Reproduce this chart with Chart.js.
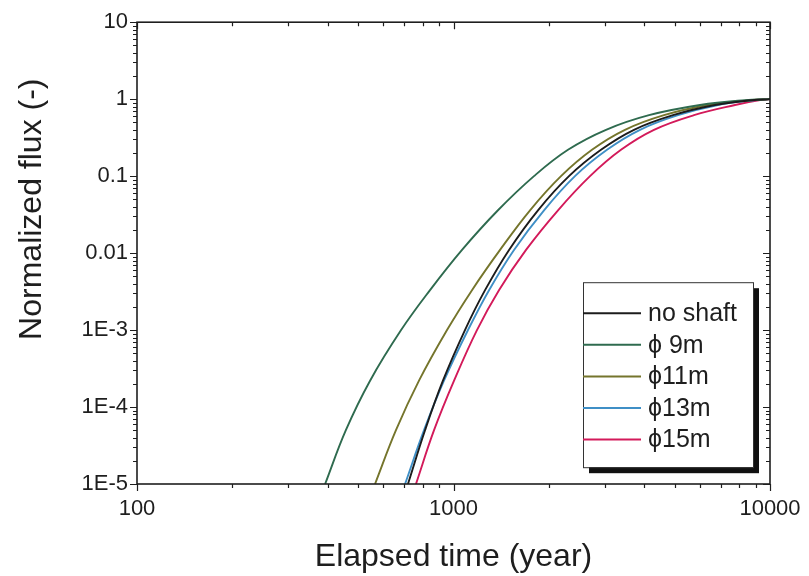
<!DOCTYPE html>
<html>
<head>
<meta charset="utf-8">
<script src="https://cdn.jsdelivr.net/npm/chart.js@4.4.0/dist/chart.umd.min.js"></script>
<style>
  html, body { margin: 0; padding: 0; background: #ffffff; }
  #wrap { width: 809px; height: 576px; }
</style>
</head>
<body>
<div id="wrap"><canvas id="c" width="809" height="576"></canvas></div>
<script>
// Normalized flux breakthrough curves vs. elapsed time, per shaft diameter.
// Each series lists the elapsed time (years) at which the flux reaches each level.
const seriesNames = ['no shaft', '\u03D5 9m', '\u03D511m', '\u03D513m', '\u03D515m'];
const seriesColors = ['#1c1c1c', '#2f6b4f', '#75752c', '#3f8fc6', '#d31a5a'];

const fluxLevels = [1e-5, 5e-5, 2.2e-4, 1e-3, 3.3e-3, 0.011, 0.036, 0.1, 0.22, 0.4, 0.62, 0.84, 0.97, 1.0];

const yearsNoShaft = [718, 813, 926, 1087, 1258, 1498, 1849, 2317, 2924, 3718, 4938, 6702, 8773, 10000];
const years9m      = [393, 457, 545, 683, 843, 1064, 1382, 1796, 2300, 3033, 4147, 6009, 8338, 10000];
const years11m     = [565, 658, 778, 954, 1144, 1403, 1745, 2186, 2739, 3482, 4625, 6370, 8646, 10000];
const years13m     = [703, 807, 933, 1111, 1295, 1553, 1932, 2420, 3055, 3884, 5121, 6850, 8901, 10000];
const years15m     = [761, 868, 1004, 1186, 1392, 1695, 2139, 2700, 3382, 4300, 5753, 7752, 9298, 10000];

const xTickLabels = ['100', '1000', '10000'];
const yTickLabels = ['1E-5', '1E-4', '1E-3', '0.01', '0.1', '1', '10'];

const xTitle = 'Elapsed time (year)';
const yTitle = 'Normalized flux (-)';

const FONT = '"Liberation Sans", Arial, Helvetica, sans-serif';
const INK = '#1e1e1e';

const allYears = [yearsNoShaft, years9m, years11m, years13m, years15m];

const datasets = seriesNames.map((name, i) => ({
  label: name,
  data: allYears[i].map((t, j) => ({ x: t, y: fluxLevels[j] })),
  borderColor: seriesColors[i],
  backgroundColor: seriesColors[i],
  borderWidth: 1.9,
  pointRadius: 0,
  fill: false,
  tension: 0.4
}));

function isDecade(v) {
  const l = Math.log10(v);
  return Math.abs(l - Math.round(l)) < 1e-9;
}

// Box frame with log ticks: outward on bottom/left, inward on top/right
const axesFrame = {
  id: 'axesFrame',
  afterDatasetsDraw(chart) {
    const { ctx, chartArea: a, scales: { x, y } } = chart;
    ctx.save();
    ctx.strokeStyle = INK;
    ctx.lineWidth = 1.2;
    const major = 7, minor = 4;
    const e0x = Math.round(Math.log10(x.min)), e1x = Math.round(Math.log10(x.max));
    for (let e = e0x; e <= e1x; e++) {
      for (let m = 1; m <= 9; m++) {
        const v = m * Math.pow(10, e);
        if (v > x.max * 1.0001) break;
        const px = Math.round(x.getPixelForValue(v)) + 0.5;
        const len = m === 1 ? major : minor;
        ctx.beginPath();
        ctx.moveTo(px, a.bottom); ctx.lineTo(px, a.bottom + len);
        ctx.moveTo(px, a.top); ctx.lineTo(px, a.top + len);
        ctx.stroke();
      }
    }
    const e0y = Math.round(Math.log10(y.min)), e1y = Math.round(Math.log10(y.max));
    for (let e = e0y; e <= e1y; e++) {
      for (let m = 1; m <= 9; m++) {
        const v = m * Math.pow(10, e);
        if (v > y.max * 1.0001) break;
        const py = Math.round(y.getPixelForValue(v)) + 0.5;
        const len = m === 1 ? major : minor;
        ctx.beginPath();
        ctx.moveTo(a.left, py); ctx.lineTo(a.left - len, py);
        ctx.moveTo(a.right, py); ctx.lineTo(a.right - len, py);
        ctx.stroke();
      }
    }
    ctx.lineWidth = 1.6;
    ctx.strokeRect(a.left, a.top, a.right - a.left, a.bottom - a.top);
    ctx.restore();
  }
};

// Vertical axis title, set a little above the plot's middle
const yTitlePlugin = {
  id: 'yTitlePlugin',
  afterDraw(chart) {
    const { ctx, chartArea: a } = chart;
    ctx.save();
    ctx.translate(32, a.top + 187);
    ctx.rotate(-Math.PI / 2);
    ctx.fillStyle = INK;
    ctx.font = '32px ' + FONT;
    ctx.textAlign = 'center';
    ctx.textBaseline = 'middle';
    ctx.fillText(yTitle, 0, 0);
    ctx.restore();
  }
};

// Boxed legend with a drop shadow, inside the lower right of the plot
const boxLegend = {
  id: 'boxLegend',
  afterDraw(chart) {
    const { ctx, chartArea: a } = chart;
    const left = a.right - 187, top = a.top + 260, w = 170, h = 185, sh = 6;
    ctx.save();
    ctx.fillStyle = '#111';
    ctx.fillRect(left + sh, top + sh, w, h);
    ctx.fillStyle = '#fff';
    ctx.fillRect(left, top, w, h);
    ctx.strokeStyle = '#333';
    ctx.lineWidth = 1;
    ctx.strokeRect(left + 0.5, top + 0.5, w, h);
    ctx.font = '25px ' + FONT;
    ctx.textBaseline = 'middle';
    ctx.textAlign = 'left';
    chart.data.datasets.forEach((ds, i) => {
      const ry = top + 31 + i * 31.6;
      ctx.strokeStyle = ds.borderColor;
      ctx.lineWidth = 2;
      ctx.beginPath();
      ctx.moveTo(left, ry); ctx.lineTo(left + 58, ry);
      ctx.stroke();
      ctx.fillStyle = INK;
      ctx.fillText(ds.label, left + 65, ry + 1);
    });
    ctx.restore();
  }
};

new Chart(document.getElementById('c'), {
  type: 'line',
  data: { datasets },
  plugins: [axesFrame, yTitlePlugin, boxLegend],
  options: {
    responsive: false,
    animation: false,
    devicePixelRatio: 1,
    layout: { padding: { left: 0, top: 22, right: 39, bottom: 0 } },
    plugins: { legend: { display: false }, tooltip: { enabled: false } },
    scales: {
      x: {
        type: 'logarithmic',
        min: 100, max: 10000,
        grid: { display: false, drawTicks: false },
        border: { display: false },
        ticks: {
          autoSkip: false, maxRotation: 0, padding: 12,
          color: INK, font: { family: FONT, size: 22 },
          callback: (v) => isDecade(v) ? xTickLabels[Math.round(Math.log10(v)) - 2] : ''
        },
        title: { display: true, text: xTitle, color: INK, font: { family: FONT, size: 32 }, padding: { top: 9, bottom: 0 } },
        afterFit: (s) => { s.height = 92; s.paddingLeft = 0; s.paddingRight = 0; }
      },
      y: {
        type: 'logarithmic',
        min: 1e-5, max: 10,
        grid: { display: false, drawTicks: false },
        border: { display: false },
        ticks: {
          autoSkip: false, padding: 9,
          color: INK, font: { family: FONT, size: 22 },
          callback: (v) => isDecade(v) ? yTickLabels[Math.round(Math.log10(v)) + 5] : ''
        },
        afterFit: (s) => { s.width = 137; }
      }
    }
  }
});
</script>
</body>
</html>
